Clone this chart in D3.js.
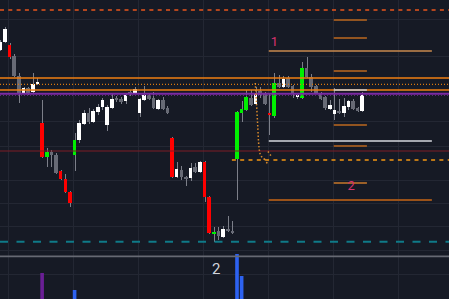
<!DOCTYPE html>
<html lang="en">
<head>
<meta charset="UTF-8">
<script src="https://cdn.jsdelivr.net/npm/d3@7"></script>
<style>
  html, body { margin: 0; padding: 0; background: #161a25; overflow: hidden; }
  svg { display: block; }
</style>
</head>
<body>
<div id="chart"></div>
<script>
const width = 449, height = 299;

// u = up, d = down, bu = strong up, bd = strong down
const kind = ["u","u","bd","d","d","u","d","u","u","bd","bu","d","d","bd","bd","bd","bu","u","u","d",
  "u","u","u","u","u","d","d","u","d","u","u","u","d","d","u","d","d","bd","u","d",
  "d","u","d","u","bd","bd","bu","d","u","d","d","bu","bu","bu","d","u","d","d","bd","bu",
  "d","u","d","d","u","bu","d","d","d","d","d","u","u","d","u","u","d","d","u"];
const open  = [250,258,255,244,224,207,212,208,216,177,143,148,145,129,121,108,145,160,176,187,
  178,188,193,175,192,202,201,199,208,207,187,200,205,202,191,200,192,162,123,130,
  123,122,133,128,138,103,66,69,63,71,69,141,187,190,202,196,209,206,187,184,
  217,213,222,214,203,202,232,223,214,207,203,191,186,189,187,193,199,192,189];
const high  = [260,273,257,246,227,213,213,227,222,200,152,150,147,130,126,109,167,180,190,192,
  191,196,202,195,207,204,203,206,210,213,202,214,207,208,201,203,194,163,138,134,
  124,137,137,139,139,104,73,73,74,84,79,189,199,210,210,213,213,208,207,227,
  225,224,224,215,206,238,243,226,215,208,204,200,212,201,202,200,201,193,208];
const low   = [249,257,241,223,197,206,205,207,215,142,133,133,126,120,107,93,129,157,175,176,
  177,185,190,169,191,198,196,196,204,206,183,199,200,191,190,190,186,122,122,120,
  114,119,127,127,98,66,58,60,62,68,66,100,178,189,194,195,202,195,165,182,
  212,212,212,202,201,201,222,208,206,200,190,190,180,186,183,190,190,188,188];
const close = [258,271,243,224,207,212,207,216,218,143,148,145,127,121,108,97,160,177,187,178,
  189,193,200,193,201,200,198,205,206,211,201,205,201,192,200,191,187,123,131,123,
  121,132,128,138,103,67,68,64,71,69,67,188,191,203,195,207,205,196,185,217,
  213,221,213,206,205,232,223,213,207,201,192,195,190,187,194,199,191,189,205];

// volume only printed on spike bars
const volIdx = [9, 16, 51, 52];
const volVal = [26, 9, 45, 23];

// grid ticks (bar index / price)
const gridIdx = [1.85, 15.85, 29.85, 43.85, 57.85, 71.85, 85.85];
const gridPrice = [281, 244, 179, 153.3, 120, 97, 74, 50, 26];

// horizontal levels (price)
const fibDash = [290];
const orangeLevels = [222, 210];
const dottedLevel = [215.7];
const purpleLevel = [206.2];
const redLevel = [149];
const swingLevel = [140];
const tealLevel = [58.3];
const grayLevel = [43.7];
const zoneLong = [249, 159, 100];
const zoneShort = [280, 262, 229, 210, 175, 154, 117];

// dotted projection path (bar index, price)
const pathA = [[54.94,217],[55.2,197],[55.48,173],[55.74,153],[56.07,145],[56.71,141.5],[57.53,139.5]];
const pathB = [[57.68,148.5],[58.2,145],[58.5,143]];
const pathC = [[56.9,141],[57.4,137.5],[57.6,136]];

const colors = { u: "#ffffff", d: "#676a75", bu: "#00f000", bd: "#ff0000" };

const svg = d3.select("#chart").append("svg")
    .attr("width", width)
    .attr("height", height);

svg.append("rect").attr("width", width).attr("height", height).attr("fill", "#161a25");

const x = d3.scaleLinear().domain([0, 1]).range([0.36, 5.0]);
const y = d3.scaleLinear().domain([0, 300]).range([300, 0]);
const yVol = d3.scaleLinear().domain([0, 100]).range([height, height - 100]);
const step = x(1) - x(0);
const bodyW = step * 0.78;

// grid
const grid = svg.append("g").attr("shape-rendering", "crispEdges");
grid.selectAll("line.gx").data(gridIdx).join("line")
    .attr("class", "gx")
    .attr("x1", d => x(d)).attr("x2", d => x(d))
    .attr("y1", 0).attr("y2", height)
    .attr("stroke", "#232733");
grid.selectAll("line.gy").data(gridPrice).join("line")
    .attr("class", "gy")
    .attr("x1", 0).attr("x2", width)
    .attr("y1", d => y(d)).attr("y2", d => y(d))
    .attr("stroke", "#232733");

// volume
svg.append("g").selectAll("rect").data(volIdx).join("rect")
    .attr("x", d => x(d) - bodyW / 2)
    .attr("width", bodyW)
    .attr("y", (d, i) => yVol(volVal[i]))
    .attr("height", (d, i) => yVol(0) - yVol(volVal[i]))
    .attr("fill", d => kind[d] === "bd" ? "#6a1f95" : "#2d62f0");

// candles
const candles = svg.append("g").attr("shape-rendering", "crispEdges");
const idx = d3.range(open.length);
candles.selectAll("line").data(idx).join("line")
    .attr("x1", i => Math.round(x(i)) + 0.5).attr("x2", i => Math.round(x(i)) + 0.5)
    .attr("y1", i => y(high[i])).attr("y2", i => y(low[i]))
    .attr("stroke", "#7c7f89");
candles.selectAll("rect").data(idx).join("rect")
    .attr("x", i => x(i) - bodyW / 2)
    .attr("width", bodyW)
    .attr("y", i => y(Math.max(open[i], close[i])))
    .attr("height", i => Math.max(1, Math.abs(open[i] - close[i]) * (y(0) - y(1))))
    .attr("fill", i => colors[kind[i]]);

// levels
const lines = svg.append("g");
function hline(vals, i0, i1, color, w, dash) {
    lines.append("g").selectAll("line").data(vals).join("line")
        .attr("x1", i0 == null ? 0 : x(i0))
        .attr("x2", i1 == null ? width : x(i1))
        .attr("y1", d => y(d)).attr("y2", d => y(d))
        .attr("stroke", color)
        .attr("stroke-width", w)
        .attr("stroke-dasharray", dash || null);
}
hline(fibDash, null, null, "#e8561c", 1.3, "4,4.3");
hline(redLevel, null, null, "#7d1c26", 1);
hline(orangeLevels, null, null, "#f07f12", 1.3);
hline(dottedLevel, null, null, "#d9780f", 1.2, "1,2");
hline(purpleLevel, null, null, "#7d2aa3", 2);
hline([purpleLevel[0] - 1.7], null, null, "#5e2a7a", 1.2, "1,2");
hline(swingLevel, 49.9, null, "#f39712", 1.4, "4,4.3");
hline(tealLevel, null, null, "#0f7a88", 2, "8,8.5");
hline(grayLevel, null, null, "#666973", 1.8);

// zone drawing
hline([zoneLong[0]], 57.85, 93, "#c98a4e", 1.3);
hline([zoneLong[1]], 57.85, 93, "#d6d8de", 1.5);
hline([zoneLong[2]], 57.85, 93, "#9a5219", 2);
hline(zoneShort.filter((d, i) => i !== 3 && i !== 6), 71.85, 79, "#925420", 2);
hline([zoneShort[3]], 71.85, 79, "#c9ccd4", 1.3);
hline([zoneShort[6]], 71.85, 79, "#c9782a", 1.5);

// dotted projection
const lineGen = d3.line().x(d => x(d[0])).y(d => y(d[1])).curve(d3.curveCatmullRom);
[pathA, pathB, pathC].forEach(p => {
    svg.append("path").attr("d", lineGen(p))
        .attr("fill", "none")
        .attr("stroke", "#d98a2c")
        .attr("stroke-width", 1.5)
        .attr("stroke-dasharray", "1.5,2");
});

// labels
const font = "Roboto, 'DejaVu Sans', sans-serif";
svg.append("text").attr("x", x(58.3)).attr("y", y(254)).text("1")
    .attr("fill", "#d8326e").attr("font-size", 13).attr("font-family", font);
svg.append("text").attr("x", x(74.8)).attr("y", y(110)).text("2")
    .attr("fill", "#d8326e").attr("font-size", 13).attr("font-family", font);
svg.append("text").attr("x", x(45.6)).attr("y", y(26)).text("2")
    .attr("fill", "#d1d4dc").attr("font-size", 15).attr("font-family", font);
</script>
</body>
</html>
